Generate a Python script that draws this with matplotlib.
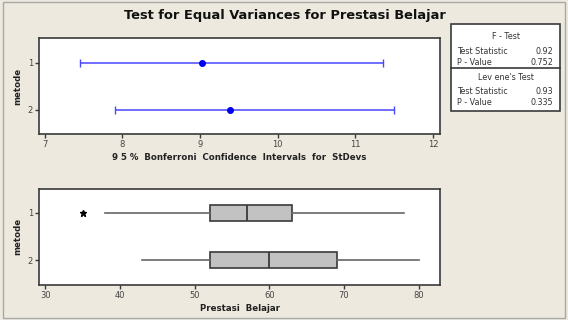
import numpy as np
import matplotlib
matplotlib.use("Agg")
from matplotlib import pyplot as plt
from matplotlib.patches import Rectangle

# dados
metode = [1, 2]
sd_est = [9.02, 9.38]
ci_low = [7.46, 7.91]
ci_high = [11.35, 11.50]

box_q1 = [52, 52]
box_med = [57, 60]
box_q3 = [63, 69]
whis_lo = [38, 43]
whis_hi = [78, 80]
outliers = [[35], []]

ci_ticks = [7, 8, 9, 10, 11, 12]
box_ticks = [30, 40, 50, 60, 70, 80]

f_test = ["0.92", "0.752"]
levene = ["0.93", "0.335"]

bg = "#EDE9DF"
dark = "#3A3A3A"

fig = plt.figure(figsize=(5.68, 3.2), dpi=100)
fig.patch.set_facecolor(bg)
fig.patches.append(Rectangle((0.005, 0.005), 0.99, 0.99, transform=fig.transFigure,
                             fill=False, edgecolor="#A8A8A8", lw=1))

def estilo(ax):
    for s in ax.spines.values():
        s.set_color(dark)
        s.set_linewidth(1.2)
    ax.tick_params(direction="out", length=3, width=1, colors=dark, labelsize=6,
                   labelcolor="#444444", pad=1.5)

# painel de cima: intervalos de confianca
ax1 = fig.add_axes([0.0692, 0.5813, 0.7055, 0.299])
for i in range(len(metode)):
    ax1.errorbar(sd_est[i], metode[i],
                 xerr=[[sd_est[i] - ci_low[i]], [ci_high[i] - sd_est[i]]],
                 fmt="o", color="#0000F0", ecolor="#4848FF", elinewidth=1.1,
                 capsize=3, capthick=1, markersize=4)
ax1.set_xlim(6.93, 12.09)
ax1.set_ylim(2.52, 0.48)
ax1.set_xticks(ci_ticks)
ax1.set_yticks(metode)
ax1.set_xlabel("9 5 %  Bonferroni  Confidence  Intervals  for  StDevs", fontsize=6.2,
               fontweight="bold", color="#222222", labelpad=3)
ax1.set_ylabel("metode", fontsize=6.2, fontweight="bold", color="#222222", labelpad=4)
estilo(ax1)

# painel de baixo: boxplot
ax2 = fig.add_axes([0.0692, 0.1109, 0.7055, 0.3])
stats = []
for i in range(len(metode)):
    stats.append({"med": box_med[i], "q1": box_q1[i], "q3": box_q3[i],
                  "whislo": whis_lo[i], "whishi": whis_hi[i], "fliers": outliers[i]})
ax2.bxp(stats, positions=metode, vert=False, widths=0.34, patch_artist=True,
        showcaps=False,
        boxprops=dict(facecolor="#C2C2C2", edgecolor=dark, linewidth=1.2),
        medianprops=dict(color=dark, linewidth=1.3),
        whiskerprops=dict(color="#666666", linewidth=1.2),
        flierprops=dict(marker="*", markersize=5, markerfacecolor="black",
                        markeredgecolor="black"))
ax2.set_xlim(29.2, 82.85)
ax2.set_ylim(2.52, 0.48)
ax2.set_xticks(box_ticks)
ax2.set_xticklabels([str(t) for t in box_ticks])
ax2.set_yticks(metode)
ax2.set_yticklabels([str(m) for m in metode])
ax2.set_xlabel("Prestasi  Belajar", fontsize=6.2, fontweight="bold", color="#222222",
               labelpad=3)
ax2.set_ylabel("metode", fontsize=6.2, fontweight="bold", color="#222222", labelpad=4)
estilo(ax2)

fig.text(0.501, 0.953, "Test for Equal Variances for Prestasi Belajar", ha="center",
         va="center", fontsize=9.4, fontweight="bold", color="#111111")

# caixa de estatisticas
fig.patches.append(Rectangle((451/568, 1 - 111/320), 109/568, 87/320,
                             transform=fig.transFigure, facecolor="white",
                             edgecolor=dark, lw=1.2))
fig.lines.append(plt.Line2D([451/568, 560/568], [1 - 68.3/320, 1 - 68.3/320],
                            transform=fig.transFigure, color=dark, lw=1.2))
xl, xr, xc = 457/568, 553/568, 505.5/568
ts = dict(fontsize=5.8, color="#333333", va="center")
fig.text(xc, 1 - 36.7/320, "F - Test", ha="center", **ts)
fig.text(xl, 1 - 51/320, "Test Statistic", ha="left", **ts)
fig.text(xr, 1 - 51/320, f_test[0], ha="right", **ts)
fig.text(xl, 1 - 62.7/320, "P - Value", ha="left", **ts)
fig.text(xr, 1 - 62.7/320, f_test[1], ha="right", **ts)
fig.text(xc, 1 - 77/320, "Lev ene's Test", ha="center", **ts)
fig.text(xl, 1 - 91.7/320, "Test Statistic", ha="left", **ts)
fig.text(xr, 1 - 91.7/320, levene[0], ha="right", **ts)
fig.text(xl, 1 - 102.7/320, "P - Value", ha="left", **ts)
fig.text(xr, 1 - 102.7/320, levene[1], ha="right", **ts)

fig.savefig("out.png", dpi=100, facecolor=bg)
